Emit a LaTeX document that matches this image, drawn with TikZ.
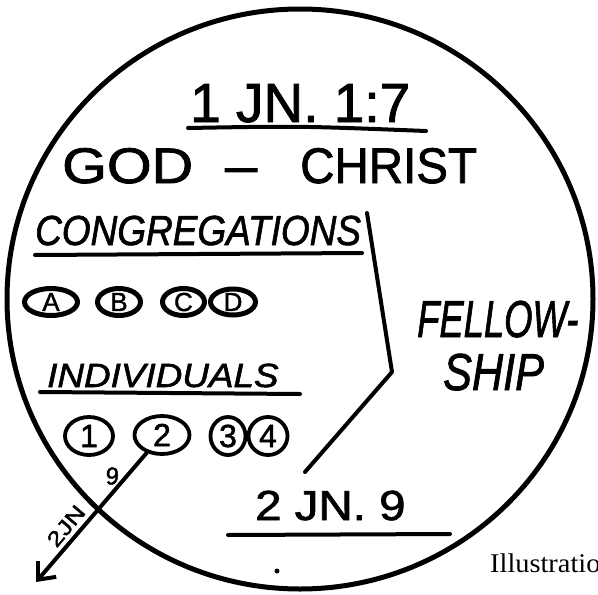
\documentclass[tikz,border=0pt]{standalone}
\usepackage{fontspec}
\usepackage{graphicx}
\newfontfamily\hand{Liberation Sans}[FakeBold=1.6]
\newfontfamily\printed{Liberation Serif}
\usetikzlibrary{arrows.meta,shapes.geometric}
\newcommand{\hs}[1]{\hand\fontsize{#1}{#1}\selectfont}
\begin{document}
\begin{tikzpicture}[x=1pt,y=-1pt,
  ink/.style={line width=4pt, line cap=round, line join=round},
  handtext/.style={inner sep=0pt, anchor=base west},
  letterring/.style={ellipse, draw, line width=5pt, inner sep=0pt, font=\hs{26}},
  numring/.style={ellipse, draw, line width=3.8pt, inner sep=0pt, font=\hs{32}}]
\useasboundingbox[fill=white] (0,0) rectangle (598,595);

% big circle
\draw[line width=5pt] (300,299) ellipse [x radius=293, y radius=290];

% headings
\node[handtext, font=\hs{55}] (t1) at (190,122) {1 JN. 1:7};
\draw[ink] (188,128) .. controls (300,126) .. (426,131);
\node[handtext, font=\hs{50}] (god) at (62,183) {\scalebox{1.15}[1]{GOD}};
\node[handtext, font=\hs{50}] (dash) at (225,183) {\scalebox{1.15}[1]{–}};
\node[handtext, font=\hs{50}] (christ) at (300,183) {\scalebox{0.95}[1]{CHRIST}};

% congregations
\node[handtext, font=\hs{42}\itshape] (cong) at (35,245) {\scalebox{0.88}[1]{CONGREGATIONS}};
\draw[ink] (35,255) -- (362,253);
\node[letterring, minimum width=53, minimum height=27] (ca) at (51,302) {A};
\node[letterring, minimum width=43, minimum height=27] (cb) at (119,302) {B};
\node[letterring, minimum width=42, minimum height=27] (cc) at (183.5,302) {C};
\node[letterring, minimum width=45, minimum height=26] (cd) at (233,302) {D};

% individuals
\node[handtext, font=\hs{33.5}\itshape] (indiv) at (47,387) {\scalebox{1.1}[1]{INDIVIDUALS}};
\draw[ink] (40,392) -- (300,394);
\node[numring, minimum width=48, minimum height=38] (n1) at (89,436) {1};
\node[numring, minimum width=55, minimum height=38] (n2) at (162,435) {2};
\node[numring, minimum width=35, minimum height=38] (n3) at (228,436) {3};
\node[numring, minimum width=39, minimum height=38] (n4) at (268,436) {4};

% fellowship bracket
\coordinate (b1) at (367,213);
\coordinate (b2) at (392,372);
\coordinate (b3) at (305,472);
\draw[ink] (b1) -- (b2) -- (b3);
\node[handtext, font=\hs{52}\itshape] (fell) at (417,337) {\scalebox{0.7}[1]{FELLOW-}};
\node[handtext, font=\hs{52}\itshape] (ship) at (443,390) {\scalebox{0.83}[1]{SHIP}};

% 2 JN 9
\node[handtext, font=\hs{42}] (jn9) at (255,520) {\scalebox{1.13}[1]{2 JN. 9}};
\draw[ink] (228,535) -- (450,534);

% arrow from individual 2
\coordinate (tip) at (36,582);
\draw[ink, -{Straight Barb[length=14pt, width=24pt]}] (n2) -- (tip);
\node[font=\hs{24}\itshape, inner sep=0pt, rotate=10] (l9) at (112,476) {9};
\node[font=\hs{21}, inner sep=0pt, rotate=50] (l2jn) at (66,526) {\scalebox{1.25}[1]{2JN}};

% dot and caption
\fill (277,571) circle (2.5);
\node[handtext, font=\printed\fontsize{27}{27}\selectfont] (illus) at (490,572) {\scalebox{1.05}[1]{Illustration}};
\end{tikzpicture}
\end{document}
